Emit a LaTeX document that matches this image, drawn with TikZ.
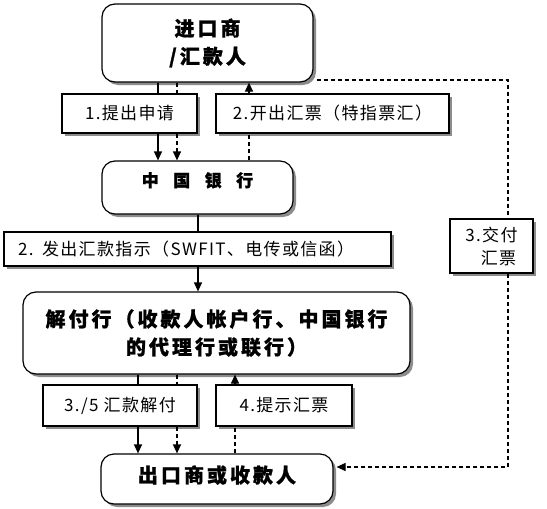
\documentclass[tikz,border=0pt]{standalone}
\usepackage{fontspec}
\newfontfamily\cjk{Noto Sans CJK SC}
\usetikzlibrary{arrows.meta,shadows}
\tikzset{
  shad/.style={drop shadow={shadow xshift=3pt, shadow yshift=-3pt, fill=black!45, opacity=1}},
  mainbox/.style={draw, line width=1.2pt, fill=white, rounded corners=13pt, shad, inner sep=0pt, align=center,
    font=\cjk\bfseries\fontsize{20}{28}\selectfont\addfontfeature{LetterSpace=15,FakeBold=1}},
  labbox/.style={draw, line width=1.2pt, fill=white, shad, inner sep=0pt, align=center,
    font=\cjk\fontsize{17}{23}\selectfont\addfontfeature{LetterSpace=8}},
  conn/.style={line width=1.2pt},
  dline/.style={line width=1.2pt, dash pattern=on 4pt off 3pt},
  arr/.style={-{Triangle[width=8pt,length=9pt]}},
}
\begin{document}
\begin{tikzpicture}[x=1pt,y=-1pt]
\useasboundingbox (0,0) rectangle (547,509);
% boxes
\node[mainbox, minimum width=211pt, minimum height=78pt] (imp) at (207.5,43) {进口商\\/汇款人};
\node[labbox, minimum width=135pt, minimum height=39pt] (l1) at (129.5,113.5) {1.提出申请};
\node[labbox, minimum width=233pt, minimum height=39pt] (l2) at (332.5,113.5) {2.开出汇票（特指票汇）};
\node[mainbox, minimum width=191pt, minimum height=53pt, text depth=16pt,
  font=\cjk\bfseries\fontsize{17}{20}\selectfont\addfontfeature{LetterSpace=85,FakeBold=1}] (boc) at (197.5,187.5) {中国银行};
\node[labbox, minimum width=387pt, minimum height=34pt, text width=359pt, align=left] (ins) at (197.5,249) {2. 发出汇款指示（SWFIT、电传或信函）};
\node[labbox, minimum width=83pt, minimum height=54pt, align=left] (dlv) at (491.5,246) {3.交付\\\phantom{3.}汇票};
\node[mainbox, minimum width=387pt, minimum height=82pt] (pay) at (216.5,333) {解付行（收款人帐户行、中国银行\\的代理行或联行）};
\node[labbox, minimum width=154pt, minimum height=41pt] (l3) at (120,405.5) {3./5 汇款解付};
\node[labbox, minimum width=136pt, minimum height=41pt] (l4) at (284,405.5) {4.提示汇票};
\node[mainbox, minimum width=232pt, minimum height=50pt, text depth=10pt] (exp) at (217,479) {出口商或收款人};
% columns
\coordinate (ca) at (158,0);
\coordinate (cb) at (177,0);
\coordinate (cc) at (249,0);
\coordinate (cd) at (198,0);
\coordinate (ce) at (138,0);
\coordinate (cf) at (235,0);
\coordinate (cg) at (508,0);
\coordinate (ch) at (0,467);
\coordinate (ci) at (0,80);
% connectors top
\draw[conn] (imp.south -| ca) -- (l1.north -| ca);
\draw[conn,arr] (l1.south -| ca) -- (boc.north -| ca);
\draw[dline] (imp.south -| cb) -- (l1.north -| cb);
\draw[dline,arr] (l1.south -| cb) -- (boc.north -| cb);
\draw[dline] (boc.north -| cc) -- (l2.south -| cc);
\draw[conn,arr] (l2.north -| cc) -- (imp.south -| cc);
% middle
\draw[conn] (boc.south -| cd) -- (ins.north -| cd);
\draw[conn,arr] (ins.south -| cd) -- (pay.north -| cd);
% bottom
\draw[conn] (pay.south -| ce) -- (l3.north -| ce);
\draw[conn,arr] (l3.south -| ce) -- (exp.north -| ce);
\draw[dline] (pay.south -| cb) -- (l3.north -| cb);
\draw[dline,arr] (l3.south -| cb) -- (exp.north -| cb);
\draw[dline] (exp.north -| cf) -- (l4.south -| cf);
\draw[conn,arr] (l4.north -| cf) -- (pay.south -| cf);
% right dashed route
\draw[dline] ([xshift=3pt]imp.east |- ci) -| (dlv.north -| cg);
\draw[dline,arr] (dlv.south -| cg) |- ([xshift=3pt]exp.east |- ch);
\end{tikzpicture}
\end{document}
